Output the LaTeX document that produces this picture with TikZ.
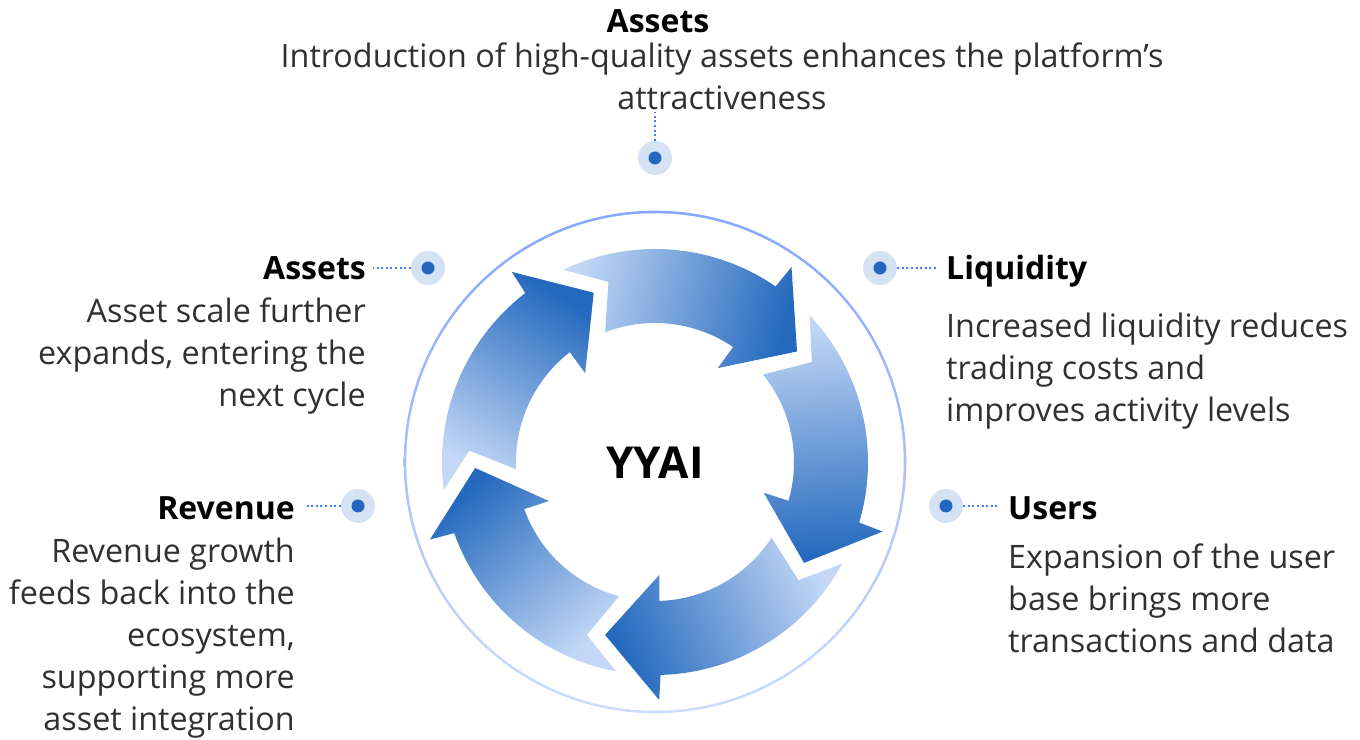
\documentclass[tikz,border=0pt]{standalone}
\usepackage{fontspec}
\setmainfont{Open Sans}
\definecolor{arLight}{RGB}{196,216,246}
\definecolor{arDark}{RGB}{36,105,190}
\definecolor{ringTop}{RGB}{134,166,255}
\definecolor{ringBot}{RGB}{205,219,255}
\definecolor{dotLight}{RGB}{212,226,244}
\definecolor{dotDark}{RGB}{36,103,192}
\definecolor{dotLine}{RGB}{66,124,255}
\definecolor{bodyText}{RGB}{48,48,48}
\pgfdeclarehorizontalshading{arrowshade}{100bp}{color(0bp)=(arLight); color(25bp)=(arLight); color(75bp)=(arDark); color(100bp)=(arDark)}
\begin{document}
\begin{tikzpicture}[x=1pt,y=1pt,
  title/.style={font=\fontsize{32}{36}\selectfont\bfseries, text=black, inner sep=0pt},
  body/.style={font=\fontsize{32.3}{42}\selectfont, text=bodyText, inner sep=0pt},
  dot/.style={circle, fill=dotLight, minimum size=34pt, inner sep=0pt,
    path picture={\fill[dotDark] (path picture bounding box.center) circle (6.5);}},
  link/.style={dotLine, line width=2pt, dash pattern=on 2pt off 2.6pt}
]
\useasboundingbox (0,0) rectangle (1360,739);
% ring and arrows
\begin{scope}[shift={(655,277)}]
  \shade[top color=ringTop, bottom color=ringBot] (0,0) circle (251.3);
  \fill[white] (0,0) circle (248.7);
  \foreach \k in {0,...,4}{
    \pgfmathsetmacro\H{55.5-72*\k}
    \pgfmathsetmacro\Sa{\H-69}
    \shade[shading=arrowshade, shading angle=\Sa]
      (\H+60:213) arc[start angle=\H+60, end angle=\H, radius=213]
      -- (\H-0.5:238) -- (\H-17.6:180) -- (\H+0.7:113) -- (\H+0.3:139)
      arc[start angle=\H+0.3, end angle=\H+55.5, radius=139]
      -- (\H+49:186) -- cycle;
  }
\end{scope}
\node[font=\fontsize{44}{48}\selectfont\bfseries, inner sep=0pt] (yyai) at (655,276) {YYAI};
% dots
\node[dot] (dTop) at (655,581) {};
\node[dot] (dAss) at (428,471) {};
\node[dot] (dLiq) at (880,471) {};
\node[dot] (dRev) at (358,233) {};
\node[dot] (dUse) at (946,233) {};
\coordinate (eTop) at (655,627);
\coordinate (eAss) at (373,471);
\coordinate (eLiq) at (937,471);
\coordinate (eRev) at (307,233);
\coordinate (eUse) at (998,233);
\draw[link] (dTop.north) -- (eTop);
\draw[link] (dAss.west) -- (eAss);
\draw[link] (dLiq.east) -- (eLiq);
\draw[link] (dRev.west) -- (eRev);
\draw[link] (dUse.east) -- (eUse);
% texts (base anchor = last line of a multi-line node)
\node[title, anchor=base] (tTop) at (658,706) {Assets};
\node[body, anchor=base, align=center] (bTop) at (722,629) {Introduction of high-quality assets enhances the platform’s\\attractiveness};
\node[title, anchor=base east] (tAss) at (366,459) {Assets};
\node[body, anchor=base east, align=right] (bAss) at (366,332) {Asset scale further\\expands, entering the\\next cycle};
\node[title, anchor=base west] (tLiq) at (946,459) {Liquidity};
\node[body, anchor=base west, align=left] (bLiq) at (946,317) {Increased liquidity reduces\\trading costs and\\improves activity levels};
\node[title, anchor=base east] (tRev) at (295,219) {Revenue};
\node[body, anchor=base east, align=right] (bRev) at (295,9) {Revenue growth\\feeds back into the\\ecosystem,\\supporting more\\asset integration};
\node[title, anchor=base west] (tUse) at (1008,219) {Users};
\node[body, anchor=base west, align=left] (bUse) at (1008,86) {Expansion of the user\\base brings more\\transactions and data};
\end{tikzpicture}
\end{document}
